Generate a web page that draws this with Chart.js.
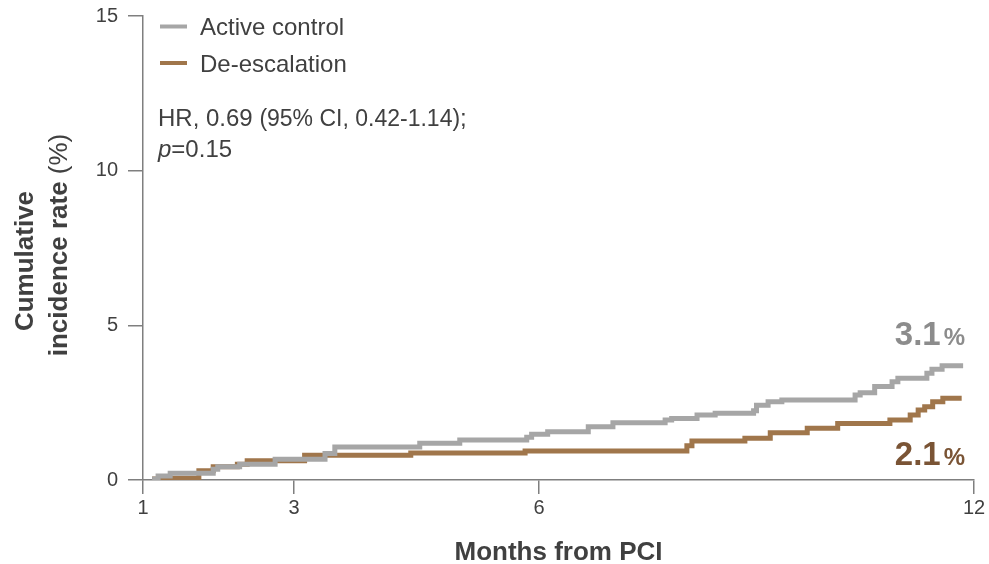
<!DOCTYPE html>
<html>
<head>
<meta charset="utf-8">
<script src="https://cdn.jsdelivr.net/npm/chart.js@4.4.1/dist/chart.umd.min.js"></script>
<style>
  html, body { margin: 0; padding: 0; background: #ffffff; }
  #wrap { width: 989px; height: 564px; }
</style>
</head>
<body>
<div id="wrap"><canvas id="c" width="989" height="564"></canvas></div>
<script>
// ---------------- data ----------------
const seriesNames = ['Active control', 'De-escalation'];

const activeMonths = [1.12, 1.20, 1.36, 1.93, 1.99, 2.28, 2.75, 3.38, 3.50, 4.54, 5.03, 5.85, 5.91, 6.12, 6.68, 7.02, 7.74, 7.83, 8.18, 8.43, 8.96, 9.00, 9.16, 9.35, 10.36, 10.43, 10.63, 10.87, 10.95, 11.35, 11.42, 11.56, 11.85];
const activeRates  = [0.03, 0.13, 0.22, 0.35, 0.43, 0.51, 0.67, 0.86, 1.07, 1.19, 1.29, 1.38, 1.48, 1.56, 1.72, 1.85, 1.94, 1.99, 2.10, 2.16, 2.24, 2.42, 2.53, 2.59, 2.75, 2.82, 3.02, 3.18, 3.29, 3.45, 3.58, 3.69, 3.69];

const deescMonths = [1.12, 1.23, 1.74, 1.93, 2.25, 2.38, 3.13, 4.43, 5.83, 8.04, 8.11, 8.84, 9.19, 9.70, 10.12, 10.84, 11.12, 11.23, 11.32, 11.43, 11.57, 11.83];
const deescRates  = [0.03, 0.06, 0.30, 0.43, 0.51, 0.62, 0.80, 0.87, 0.94, 1.11, 1.26, 1.35, 1.53, 1.67, 1.83, 1.94, 2.10, 2.26, 2.37, 2.53, 2.64, 2.64];

const xTickLabels = [1, 3, 6, 12];
const yTickLabels = [0, 5, 10, 15];
const endLabels = ['3.1', '2.1'];
const hrText = ['HR, 0.69 ', '(95% CI, 0.42-1.14)', ';'];
const pText = ['p', '=0.15'];

// ---------------- styling ----------------
const FONT = '"Liberation Sans", Arial, Helvetica, sans-serif';
const TEXT = '#404040';
const AXIS = '#7f7f7f';
const COLORS = ['#a6a6a6', '#a0764b'];
const LABEL_COLORS = ['#8c8c8c', '#7a5435'];
// month axis is drawn with uneven spacing between its ticks in the original
const AXIS_FRACTIONS = [0, 0.1817, 0.4765, 1];

class WarpScale extends Chart.LinearScale {
  warp(v) {
    const k = xTickLabels, f = AXIS_FRACTIONS;
    for (let i = 1; i < k.length; i++) {
      if (v <= k[i] || i === k.length - 1) {
        return f[i - 1] + (v - k[i - 1]) / (k[i] - k[i - 1]) * (f[i] - f[i - 1]);
      }
    }
    return 0;
  }
  getPixelForValue(v) {
    return v === null || v === undefined ? NaN : this.getPixelForDecimal(this.warp(v));
  }
  getValueForPixel(p) {
    const d = this.getDecimalForPixel(p);
    const k = xTickLabels, f = AXIS_FRACTIONS;
    for (let i = 1; i < k.length; i++) {
      if (d <= f[i] || i === k.length - 1) {
        return k[i - 1] + (d - f[i - 1]) / (f[i] - f[i - 1]) * (k[i] - k[i - 1]);
      }
    }
    return k[0];
  }
}
WarpScale.id = 'warp';
WarpScale.defaults = Chart.LinearScale.defaults;
Chart.register(WarpScale);

function pts(xs, ys) { return xs.map((x, i) => ({ x: x, y: ys[i] })); }

const overlay = {
  id: 'overlay',
  afterDatasetsDraw(chart) {
    const ctx = chart.ctx;
    const xs = chart.scales.x, ys = chart.scales.y;
    const area = chart.chartArea;
    ctx.save();
    // legend
    chart.data.datasets.forEach((ds, i) => {
      const yy = 26.5 + i * 36.5;
      ctx.strokeStyle = ds.borderColor;
      ctx.lineWidth = 4;
      ctx.beginPath();
      ctx.moveTo(area.left + 17, yy);
      ctx.lineTo(area.left + 44, yy);
      ctx.stroke();
      ctx.fillStyle = TEXT;
      ctx.font = '24px ' + FONT;
      ctx.textBaseline = 'alphabetic';
      ctx.textAlign = 'left';
      ctx.fillText(ds.label, area.left + 57, yy + 8.5);
    });
    // HR text
    let x = area.left + 15;
    let y = 126;
    ctx.font = '24px ' + FONT;
    ctx.fillText(hrText[0], x, y); x += ctx.measureText(hrText[0]).width;
    ctx.font = '23px ' + FONT;
    ctx.fillText(hrText[1], x, y); x += ctx.measureText(hrText[1]).width;
    ctx.font = '24px ' + FONT;
    ctx.fillText(hrText[2], x, y);
    x = area.left + 15; y = 157;
    ctx.font = 'italic 24px ' + FONT;
    ctx.fillText(pText[0], x, y); x += ctx.measureText(pText[0]).width;
    ctx.font = '24px ' + FONT;
    ctx.fillText(pText[1], x, y);

    // end labels
    const right = xs.getPixelForValue(12) - 9;
    const baselines = [ys.getPixelForValue(0) - 135, ys.getPixelForValue(0) - 15];
    endLabels.forEach((t, i) => {
      ctx.fillStyle = LABEL_COLORS[i];
      ctx.textAlign = 'right';
      ctx.font = 'bold 24px ' + FONT;
      const pw = ctx.measureText('%').width;
      ctx.fillText('%', right, baselines[i]);
      ctx.font = 'bold 33px ' + FONT;
      ctx.fillText(t, right - pw - 3, baselines[i]);
    });

    // y-axis title
    ctx.fillStyle = TEXT;
    ctx.textAlign = 'left';
    ctx.save();
    ctx.translate(33, 261);
    ctx.rotate(-Math.PI / 2);
    ctx.font = 'bold 26px ' + FONT;
    const w1 = ctx.measureText('Cumulative').width;
    ctx.fillText('Cumulative', -w1 / 2, 0);
    ctx.restore();
    ctx.save();
    ctx.translate(67, 245);
    ctx.rotate(-Math.PI / 2);
    ctx.font = 'bold 26px ' + FONT;
    const a = 'incidence rate ';
    const wa = ctx.measureText(a).width;
    ctx.font = '26px ' + FONT;
    const wb = ctx.measureText('(%)').width;
    const start = -(wa + wb) / 2;
    ctx.font = 'bold 26px ' + FONT;
    ctx.fillText(a, start, 0);
    ctx.font = '26px ' + FONT;
    ctx.fillText('(%)', start + wa, 0);
    ctx.restore();
    ctx.restore();
  }
};

new Chart(document.getElementById('c'), {
  type: 'line',
  data: {
    datasets: [
      { label: seriesNames[0], data: pts(activeMonths, activeRates), borderColor: COLORS[0], backgroundColor: COLORS[0], borderWidth: 5, stepped: true, pointRadius: 0, fill: false },
      { label: seriesNames[1], data: pts(deescMonths, deescRates), borderColor: COLORS[1], backgroundColor: COLORS[1], borderWidth: 5, stepped: true, pointRadius: 0, fill: false }
    ]
  },
  options: {
    responsive: false,
    animation: false,
    events: [],
    layout: { padding: { left: 0, right: 15, top: 16, bottom: 0 } },
    plugins: { legend: { display: false }, tooltip: { enabled: false }, title: { display: false } },
    scales: {
      x: {
        type: 'warp',
        min: xTickLabels[0],
        max: xTickLabels[xTickLabels.length - 1],
        afterBuildTicks: (s) => { s.ticks = xTickLabels.map(v => ({ value: v })); },
        afterFit: (s) => { s.height = 84; },
        grid: { drawOnChartArea: false, drawTicks: true, tickLength: 14, color: AXIS, lineWidth: 1.5 },
        border: { display: true, color: AXIS, width: 1.5 },
        ticks: { color: TEXT, font: { family: FONT, size: 20 }, padding: 2, maxRotation: 0, autoSkip: false },
        title: { display: true, text: 'Months from PCI', color: TEXT, font: { family: FONT, size: 26, weight: 'bold', lineHeight: 1 }, padding: { top: 0, bottom: -2 } }
      },
      y: {
        type: 'linear',
        min: yTickLabels[0],
        max: yTickLabels[yTickLabels.length - 1],
        afterBuildTicks: (s) => { s.ticks = yTickLabels.map(v => ({ value: v })); },
        afterFit: (s) => { s.width = 143; s.paddingTop = 0; s.paddingBottom = 0; },
        grid: { drawOnChartArea: false, drawTicks: true, tickLength: 15, color: AXIS, lineWidth: 1.5 },
        border: { display: true, color: AXIS, width: 1.5 },
        ticks: { color: TEXT, font: { family: FONT, size: 20 }, padding: 10 }
      }
    }
  },
  plugins: [overlay]
});
</script>
</body>
</html>
